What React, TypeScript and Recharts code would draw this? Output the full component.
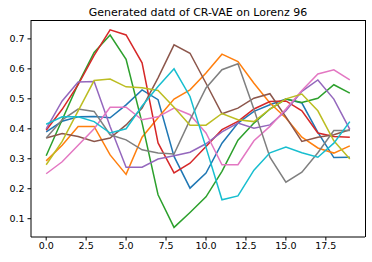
import React from 'react';
import { LineChart, Line, XAxis, YAxis } from 'recharts';

const steps = [0, 1, 2, 3, 4, 5, 6, 7, 8, 9, 10, 11, 12, 13, 14, 15, 16, 17, 18, 19];
const xTicks = [0, 2.5, 5, 7.5, 10, 12.5, 15, 17.5];
const yTicks = [0.1, 0.2, 0.3, 0.4, 0.5, 0.6, 0.7];

const blue = [0.39, 0.425, 0.44, 0.441, 0.437, 0.48, 0.53, 0.497, 0.308, 0.202, 0.252, 0.352, 0.419, 0.458, 0.48, 0.499, 0.486, 0.388, 0.304, 0.305];
const orange = [0.293, 0.345, 0.408, 0.408, 0.313, 0.248, 0.372, 0.437, 0.499, 0.53, 0.586, 0.649, 0.624, 0.552, 0.486, 0.436, 0.372, 0.336, 0.319, 0.343];
const green = [0.31, 0.43, 0.55, 0.655, 0.713, 0.632, 0.42, 0.18, 0.071, 0.121, 0.173, 0.258, 0.362, 0.419, 0.466, 0.499, 0.488, 0.502, 0.547, 0.519];
const red = [0.395, 0.465, 0.547, 0.645, 0.73, 0.713, 0.62, 0.353, 0.253, 0.285, 0.341, 0.397, 0.425, 0.466, 0.491, 0.493, 0.46, 0.386, 0.374, 0.372];
const purple = [0.4, 0.493, 0.556, 0.558, 0.408, 0.272, 0.272, 0.299, 0.31, 0.322, 0.35, 0.39, 0.419, 0.402, 0.413, 0.46, 0.525, 0.563, 0.499, 0.398];
const brown = [0.369, 0.384, 0.374, 0.358, 0.369, 0.413, 0.469, 0.57, 0.68, 0.652, 0.552, 0.45, 0.469, 0.502, 0.517, 0.44, 0.358, 0.372, 0.38, 0.397];
const pink = [0.25, 0.29, 0.345, 0.4, 0.472, 0.472, 0.43, 0.44, 0.469, 0.447, 0.386, 0.28, 0.28, 0.36, 0.408, 0.466, 0.528, 0.583, 0.597, 0.563];
const gray = [0.369, 0.43, 0.466, 0.458, 0.38, 0.363, 0.33, 0.319, 0.316, 0.43, 0.536, 0.597, 0.617, 0.465, 0.305, 0.222, 0.255, 0.32, 0.394, 0.394];
const olive = [0.28, 0.358, 0.46, 0.561, 0.566, 0.54, 0.537, 0.528, 0.472, 0.412, 0.412, 0.451, 0.43, 0.424, 0.466, 0.5, 0.516, 0.46, 0.36, 0.299];
const cyan = [0.415, 0.44, 0.44, 0.424, 0.386, 0.4, 0.476, 0.541, 0.6, 0.508, 0.338, 0.163, 0.176, 0.262, 0.32, 0.339, 0.32, 0.305, 0.352, 0.424];

const series = [
    { key: 's0', values: blue, color: '#1f77b4' },
    { key: 's1', values: orange, color: '#ff7f0e' },
    { key: 's2', values: green, color: '#2ca02c' },
    { key: 's3', values: red, color: '#d62728' },
    { key: 's4', values: purple, color: '#9467bd' },
    { key: 's5', values: brown, color: '#8c564b' },
    { key: 's6', values: pink, color: '#e377c2' },
    { key: 's7', values: gray, color: '#7f7f7f' },
    { key: 's8', values: olive, color: '#bcbd22' },
    { key: 's9', values: cyan, color: '#17becf' },
];

const data = steps.map((x, i) => {
    const row: Record<string, number> = { x };
    series.forEach(s => { row[s.key] = s.values[i]; });
    return row;
});

const font = 'DejaVu Sans';
const tickStyle = { fontSize: 9.5, fill: '#000', fontFamily: font };

const App: React.FC = () => {
    return (
        <div style={{ position: 'absolute', left: 0, top: 0, width: 372, height: 262, background: '#fff' }}>
            <div
                style={{
                    position: 'absolute',
                    left: 31,
                    width: 334,
                    top: 7,
                    textAlign: 'center',
                    fontFamily: font,
                    fontSize: 11,
                    lineHeight: '12px',
                    color: '#000',
                }}
            >
                Generated datd of CR-VAE on Lorenz 96
            </div>
            <LineChart width={372} height={262} data={data} margin={{ top: 20, right: 7, left: 0, bottom: 0 }}>
                <XAxis
                    dataKey="x"
                    type="number"
                    domain={[-0.95, 19.95]}
                    ticks={xTicks}
                    tickFormatter={(v: number) => v.toFixed(1)}
                    height={25}
                    tickSize={3.5}
                    tickMargin={2}
                    tick={tickStyle}
                    stroke="#000"
                    allowDataOverflow
                />
                <YAxis
                    type="number"
                    domain={[0.039, 0.763]}
                    ticks={yTicks}
                    tickFormatter={(v: number) => v.toFixed(1)}
                    width={31}
                    tickSize={3.5}
                    tickMargin={3}
                    tick={tickStyle}
                    stroke="#000"
                    allowDataOverflow
                />
                {series.map(s => (
                    <Line
                        key={s.key}
                        type="linear"
                        dataKey={s.key}
                        stroke={s.color}
                        strokeWidth={1.5}
                        dot={false}
                        isAnimationActive={false}
                    />
                ))}
            </LineChart>
            {/* top and right spines */}
            <div
                style={{
                    position: 'absolute',
                    left: 31,
                    top: 20,
                    width: 335,
                    height: 217,
                    boxSizing: 'border-box',
                    borderTop: '1px solid #000',
                    borderRight: '1px solid #000',
                    pointerEvents: 'none',
                }}
            />
        </div>
    );
};

export default App;
